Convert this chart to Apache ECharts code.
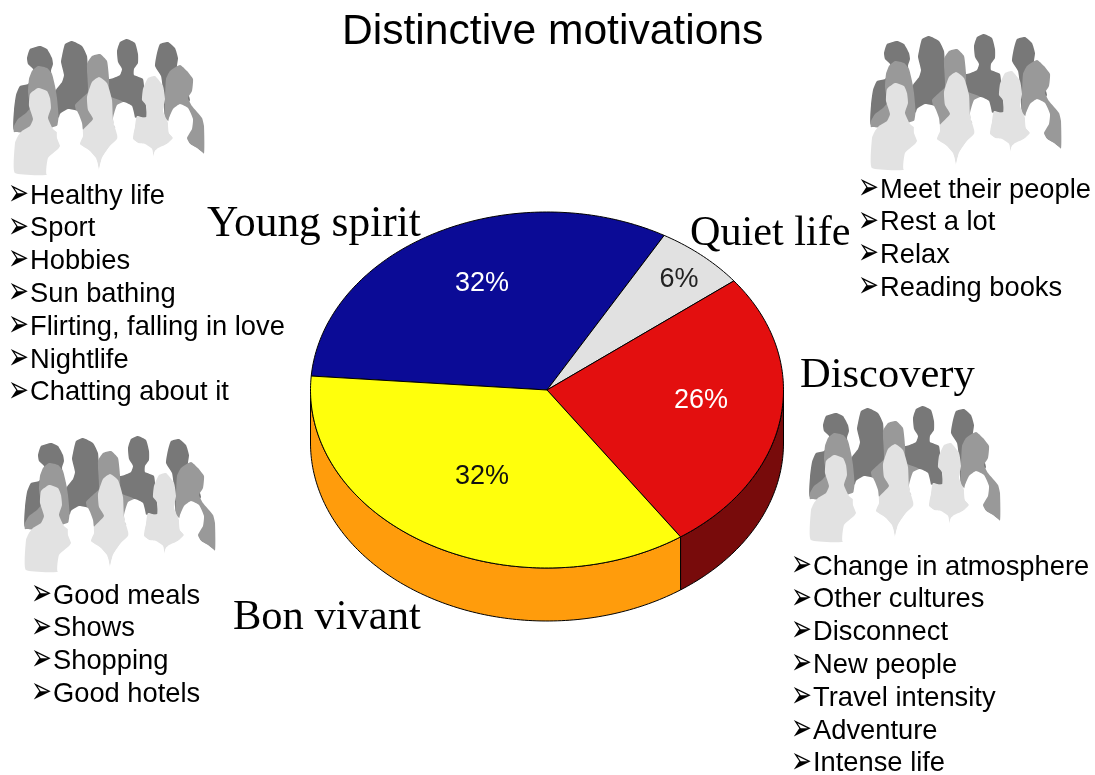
<!DOCTYPE html>
<html>
<head>
<meta charset="utf-8">
<style>
  html, body { margin: 0; padding: 0; background: #fff; }
  #chart { width: 1095px; height: 775px; }
</style>
</head>
<body>
<div id="chart"></div>
<script src="https://cdn.jsdelivr.net/npm/echarts@6/dist/echarts.min.js"></script>
<script>
// slices, clockwise from the blue one
const sliceNames = ['Young spirit', 'Quiet life', 'Discovery', 'Bon vivant'];
const sliceShares = [32, 6.25, 25.95, 35.8];
// printed labels (the yellow one says 32% though its slice is bigger)
const sliceLabels = ['32%', '6%', '26%', '32%'];

const youngSpiritItems = ['Healthy life', 'Sport', 'Hobbies', 'Sun bathing', 'Flirting, falling in love', 'Nightlife', 'Chatting about it'];
const quietLifeItems = ['Meet their people', 'Rest a lot', 'Relax', 'Reading books'];
const bonVivantItems = ['Good meals', 'Shows', 'Shopping', 'Good hotels'];
const discoveryItems = ['Change in atmosphere', 'Other cultures', 'Disconnect', 'New people', 'Travel intensity', 'Adventure', 'Intense life'];

const SANS = '"Liberation Sans", Arial, sans-serif';
const SERIF = '"Liberation Serif", "Times New Roman", serif';

// pie geometry
const CX = 547, CY = 390, RX = 236.5, RY = 178, DEPTH = 53;
const START_ANGLE = 175.5;
const topColors = ['#0b0b96', '#e1e1e1', '#e30f0f', '#ffff0c'];
const wallColors = ['#060650', '#777777', '#780b0b', '#ff9c0c'];
const labelColors = ['#fff', '#222', '#fff', '#111'];
const labelPos = [[482, 284], [679, 280], [701, 401], [482, 477]];

const total = sliceShares.reduce((a, b) => a + b, 0);

const ellipsePoint = function(deg, dy = 0) {
  const rad = deg * Math.PI / 180;
  return [CX + RX * Math.cos(rad), CY - RY * Math.sin(rad) + dy];
};

const arcPoints = function(from, to, dy = 0) {
  const pts = [];
  const steps = Math.max(2, Math.ceil(Math.abs(to - from)));
  for (let i = 0; i <= steps; i++) {
    pts.push(ellipsePoint(from + (to - from) * i / steps, dy));
  }
  return pts;
};

const renderSlice = function(params, api) {
  const idx = params.dataIndex;
  let before = 0;
  for (let i = 0; i < idx; i++) before += sliceShares[i];
  // angles go clockwise, so they decrease
  const a0 = START_ANGLE - before / total * 360;
  const a1 = a0 - api.value(0) / total * 360;
  const children = [];

  // only the front half of the cylinder shows, 0 to -180
  const wallFrom = Math.min(a0, 0);
  const wallTo = Math.max(a1, -180);
  if (wallFrom > wallTo) {
    const top = arcPoints(wallFrom, wallTo);
    const bottom = arcPoints(wallTo, wallFrom, DEPTH);
    children.push({
      type: 'polygon',
      z2: 1,
      shape: { points: top.concat(bottom) },
      style: { fill: wallColors[idx], stroke: '#000', lineWidth: 1 }
    });
  }
  children.push({
    type: 'polygon',
    z2: 2,
    shape: { points: [[CX, CY]].concat(arcPoints(a0, a1)) },
    style: { fill: topColors[idx], stroke: '#000', lineWidth: 1 }
  });
  children.push({
    type: 'text',
    z2: 3,
    style: {
      x: labelPos[idx][0],
      y: labelPos[idx][1],
      text: sliceLabels[idx],
      fill: labelColors[idx],
      font: '27px ' + SANS,
      textAlign: 'center',
      textVerticalAlign: 'middle'
    }
  });
  return { type: 'group', children };
};

// crowd silhouette, traced from the top left one
const crowdDark = [
  [[27,58],[30,49],[40,46],[47,49],[52,58],[53,64],[51,71],[54,85],[60,110],[40,130],[14,130],[14,110],[16,95],[20,86],[28,84],[33,78],[33,69],[28,64]],
  [[62,56],[65,44],[72,41],[82,46],[87,56],[88,74],[90,90],[88,108],[60,118],[52,112],[56,90],[62,82],[64,75],[61,62]],
  [[117,51],[120,42],[127,39],[135,43],[138,54],[138,63],[134,69],[134,75],[143,79],[145,100],[147,117],[120,116],[100,100],[88,78],[110,79],[120,75],[122,69],[118,62]],
  [[157,53],[160,44],[168,42],[175,48],[178,58],[177,68],[190,100],[175,115],[165,115],[163,90],[161,76],[155,66]]
];
const crowdMid = [
  [[29,79],[32,71],[38,66],[47,68],[52,74],[55,86],[57,98],[58,125],[30,132],[14,132],[14,126],[18,119],[26,113],[30,108],[28,92]],
  [[87,64],[92,56],[100,54],[107,61],[109,78],[110,96],[123,102],[127,125],[95,130],[83,130],[78,117],[75,105],[82,98],[88,92]],
  [[166,79],[170,71],[180,65],[187,71],[193,79],[192,91],[188,98],[192,106],[202,118],[204,126],[204,154],[197,148],[190,144],[180,130],[165,118],[165,100]]
];
const crowdLight = [
  [[30,94],[38,88],[47,91],[50,98],[51,108],[48,118],[53,129],[60,135],[60,173],[15,173],[15,143],[18,136],[22,131],[30,126],[33,119],[29,106]],
  [[87,97],[92,82],[99,77],[107,83],[112,100],[113,120],[118,140],[110,146],[102,158],[99,170],[96,158],[88,150],[78,143],[82,131],[93,119],[88,110]],
  [[143,89],[148,78],[155,76],[163,86],[165,99],[163,111],[168,123],[169,133],[173,138],[167,144],[158,148],[155,151],[153,158],[152,149],[145,144],[138,143],[133,139],[135,126],[137,116],[146,118],[146,105],[142,100]]
];
const crowdWhite = [
  [[47,175],[48,158],[58,149],[60,146],[57,138],[57,128],[60,114],[68,109],[77,111],[82,123],[83,136],[80,144],[90,151],[97,161],[99,171],[99,175]],
  [[99,175],[102,158],[110,146],[117,139],[118,134],[114,125],[113,118],[117,105],[124,102],[132,106],[135,118],[135,126],[133,134],[133,139],[138,143],[152,149],[153,175]],
  [[153,175],[153,158],[155,151],[167,144],[173,138],[169,133],[168,123],[169,118],[173,109],[180,104],[188,108],[193,119],[192,129],[187,138],[190,144],[204,154],[204,175]]
];

const crowd = function(x, y) {
  const layers = [[crowdDark, '#787878'], [crowdMid, '#999999'], [crowdLight, '#e2e2e2'], [crowdWhite, '#ffffff']];
  const children = [];
  layers.forEach(([shapes, color]) => {
    shapes.forEach(points => {
      children.push({
        type: 'polygon',
        shape: { points, smooth: 0.15 },
        style: { fill: color }
      });
    });
  });
  return { type: 'group', x, y, children };
};

const bulletList = function(items, x, y) {
  const els = [];
  items.forEach((item, i) => {
    const rowY = y + i * 32.8;
    // the arrow glyph is flatter than the one in the picture, so stretch it
    els.push({
      type: 'text',
      x: x - 2,
      y: rowY - 1,
      scaleY: 1.5,
      style: { x: 0, y: 0, text: '\u27A2', fill: '#000', font: '25px "DejaVu Sans"', textVerticalAlign: 'middle' }
    });
    els.push({
      type: 'text',
      style: { x: x + 20, y: rowY, text: item, fill: '#000', font: '27.3px ' + SANS, textVerticalAlign: 'middle' }
    });
  });
  return els;
};

const bigLabel = function(text, x, y, size = 42.5) {
  return {
    type: 'text',
    style: { x, y, text, fill: '#000', font: size + 'px ' + SERIF, textVerticalAlign: 'middle' }
  };
};

const myChart = echarts.init(document.querySelector('#chart'));

const option = {
  animation: false,
  backgroundColor: '#fff',
  title: {
    text: 'Distinctive motivations',
    left: 342,
    top: 11,
    padding: 0,
    textStyle: { fontFamily: SANS, fontSize: 42.6, fontWeight: 'normal', color: '#000' }
  },
  graphic: {
    elements: [
      crowd(0, 0),
      crowd(857, -5),
      crowd(11, 397),
      crowd(796, 367),
      ...bulletList(youngSpiritItems, 10, 196),
      ...bulletList(quietLifeItems, 860, 190),
      ...bulletList(bonVivantItems, 33, 596),
      ...bulletList(discoveryItems, 793, 567),
      bigLabel(sliceNames[0], 207, 225, 43.4),
      bigLabel(sliceNames[1], 690, 234, 42.2),
      bigLabel(sliceNames[2], 800, 376),
      bigLabel(sliceNames[3], 233, 618)
    ]
  },
  series: [
    {
      type: 'custom',
      coordinateSystem: 'none',
      renderItem: renderSlice,
      data: sliceShares.map(v => [v])
    }
  ]
};

myChart.setOption(option);
</script>
</body>
</html>
